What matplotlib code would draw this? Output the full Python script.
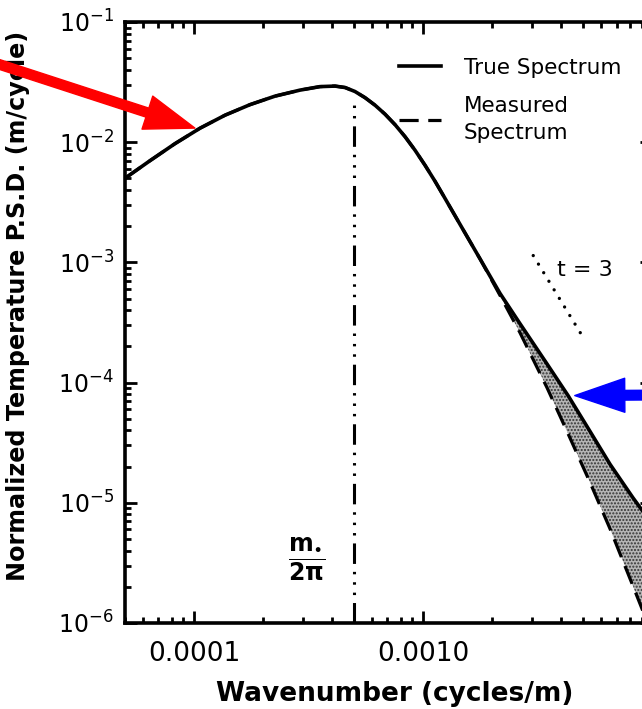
import matplotlib
matplotlib.use('Agg')
import matplotlib.pyplot as plt
from matplotlib.ticker import FixedLocator, FixedFormatter, LogLocator, NullFormatter

# ---------------- data ----------------
wavenumber = [5.0e-5, 6.43e-5, 8.26e-5, 1.064e-4, 1.368e-4, 1.758e-4, 2.26e-4, 2.904e-4,
              3.55e-4, 4.13e-4, 4.57e-4, 5.05e-4, 5.58e-4, 6.18e-4, 6.83e-4, 7.55e-4,
              8.35e-4, 9.23e-4, 1.021e-3, 1.129e-3, 1.248e-3, 1.452e-3, 1.775e-3, 2.17e-3,
              2.65e-3, 3.48e-3, 4.30e-3, 5.37e-3, 6.56e-3, 8.26e-3, 1.0e-2]
true_spectrum = [5.01e-3, 7.02e-3, 9.72e-3, 1.309e-2, 1.679e-2, 2.054e-2, 2.417e-2, 2.712e-2,
                 2.90e-2, 2.93e-2, 2.85e-2, 2.64e-2, 2.35e-2, 2.03e-2, 1.71e-2, 1.40e-2,
                 1.112e-2, 8.58e-3, 6.43e-3, 4.73e-3, 3.41e-3, 2.07e-3, 1.07e-3, 5.52e-4,
                 3.10e-4, 1.43e-4, 7.80e-5, 3.91e-5, 2.09e-5, 1.10e-5, 6.68e-6]
measured_spectrum = [5.01e-3, 7.02e-3, 9.72e-3, 1.309e-2, 1.679e-2, 2.054e-2, 2.417e-2, 2.712e-2,
                     2.90e-2, 2.93e-2, 2.85e-2, 2.64e-2, 2.35e-2, 2.03e-2, 1.71e-2, 1.40e-2,
                     1.112e-2, 8.58e-3, 6.43e-3, 4.73e-3, 3.41e-3, 2.07e-3, 1.07e-3, 5.31e-4,
                     2.61e-4, 9.08e-5, 3.76e-5, 1.47e-5, 6.07e-6, 2.03e-6, 8.1e-7]
m_star_over_2pi = 5e-4
m_line_top = 2.17e-2
slope_ref_x = [3.03e-3, 4.95e-3]
slope_ref_y = [1.14e-3, 2.46e-4]
x_ticks = [1e-4, 1e-3]
x_tick_labels = ['0.0001', '0.0010']
y_ticks = [1e-6, 1e-5, 1e-4, 1e-3, 1e-2, 1e-1]
y_tick_labels = [r'$10^{-6}$', r'$10^{-5}$', r'$10^{-4}$', r'$10^{-3}$', r'$10^{-2}$', r'$10^{-1}$']
legend_labels = ['True Spectrum', 'Measured\nSpectrum']

# ---------------- figure ----------------
fig = plt.figure(figsize=(6.42, 7.09), dpi=100)
ax = fig.add_axes([125 / 642, 86 / 709, 527 / 642, 601 / 709])
ax.set_xscale('log')
ax.set_yscale('log')
ax.set_xlim(5e-5, 1e-2)
ax.set_ylim(1e-6, 1e-1)

ax.fill_between(wavenumber, measured_spectrum, true_spectrum, facecolor='#b5b5b5',
                hatch='.....', edgecolor='#333333', linewidth=0, zorder=1)
meas_line, = ax.plot(wavenumber, measured_spectrum, color='black', lw=2.3,
                     dashes=(6, 3), zorder=2, label=legend_labels[1])
true_line, = ax.plot(wavenumber, true_spectrum, color='black', lw=2.6,
                     zorder=3, label=legend_labels[0])

ax.vlines(m_star_over_2pi, 1e-6, m_line_top, colors='black', lw=2.2,
          linestyles=[(0, (6.7, 2.6, 0.8, 2.6, 0.8, 2.6, 0.8, 2.6))], zorder=2)
ax.plot(slope_ref_x, slope_ref_y, color='black', lw=2.4,
        linestyle=(0, (0.01, 3.0)), dash_capstyle='round', zorder=2)

ax.text(3.85e-3, 8.6e-4, 't = 3', fontsize=16, ha='left', va='center')
ax.text(3.12e-4, 3.4e-6, r'$\dfrac{\mathbf{m}_{\bullet}}{\mathbf{2\pi}}$', fontsize=17,
        ha='center', va='center')

leg = ax.legend(handles=[true_line, meas_line], loc='upper left',
                bbox_to_anchor=(399 / 642, 1 - 58 / 709), bbox_transform=fig.transFigure,
                frameon=False, fontsize=15.5, handlelength=1.95, handletextpad=1.05,
                labelspacing=0.85, borderpad=0, borderaxespad=0)
for t in leg.get_texts():
    t.set_linespacing(1.4)

# arrows
ax.annotate('', xy=(1.01e-4, 1.31e-2), xycoords='data',
            xytext=(-5, 709 - 63), textcoords='figure pixels',
            arrowprops=dict(arrowstyle='simple,head_length=36,head_width=25,tail_width=6.8',
                            mutation_scale=1, color='#ff0000', shrinkA=0, shrinkB=0),
            annotation_clip=False, zorder=5)
ax.annotate('', xy=(4.6e-3, 7.8e-5), xycoords='data',
            xytext=(665, 709 - 395), textcoords='figure pixels',
            arrowprops=dict(arrowstyle='simple,head_length=36,head_width=24.5,tail_width=7.0',
                            mutation_scale=1, color='#0000ff', shrinkA=0, shrinkB=0),
            annotation_clip=False, zorder=5)

# axes styling
for sp in ax.spines.values():
    sp.set_linewidth(2.6)
ax.xaxis.set_major_locator(FixedLocator(x_ticks))
ax.xaxis.set_major_formatter(FixedFormatter(x_tick_labels))
ax.xaxis.set_minor_locator(LogLocator(base=10, subs=range(2, 10), numticks=20))
ax.xaxis.set_minor_formatter(NullFormatter())
ax.yaxis.set_major_locator(FixedLocator(y_ticks))
ax.yaxis.set_major_formatter(FixedFormatter(y_tick_labels))
ax.yaxis.set_minor_locator(LogLocator(base=10, subs=range(2, 10), numticks=20))
ax.yaxis.set_minor_formatter(NullFormatter())
ax.tick_params(which='both', direction='in', top=True, right=True, width=2.0)
ax.tick_params(which='major', length=8.5)
ax.tick_params(which='minor', length=4.5)
ax.tick_params(axis='x', which='major', labelsize=19, pad=13)
ax.tick_params(axis='y', which='major', labelsize=17, pad=8)

ax.set_xlabel('Wavenumber (cycles/m)', fontsize=19, fontweight='bold', labelpad=10)
ax.xaxis.label.set_x(0.512)
ax.set_ylabel('Normalized Temperature P.S.D. (m/cycle)', fontsize=17.2, fontweight='bold',
              rotation_mode='default', ha='center', va='bottom')
ax.yaxis.set_label_coords(-107 / 527, 42 / 601)

fig.savefig('out.png', dpi=100)
